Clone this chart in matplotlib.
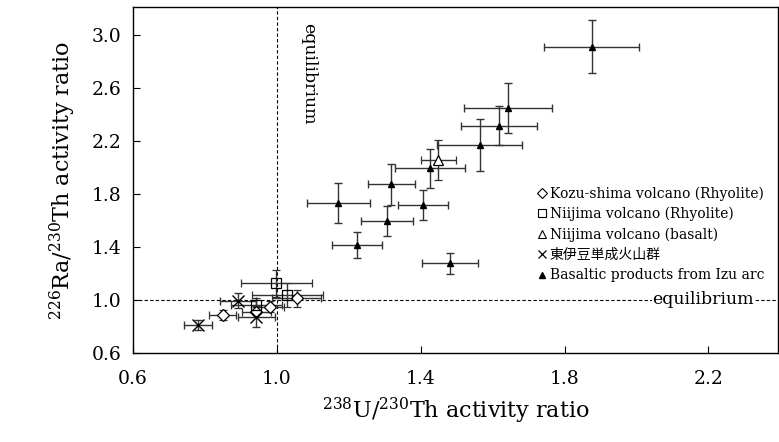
import matplotlib
matplotlib.use("Agg")
import matplotlib.pyplot as plt
from matplotlib.lines import Line2D

plt.rcParams['font.family'] = ['DejaVu Serif', 'Noto Sans CJK JP']
plt.rcParams['mathtext.fontset'] = 'dejavuserif'

# Kozu-shima volcano (Rhyolite)
kozu_x = [0.849, 0.943, 0.981, 1.055]
kozu_y = [0.887, 0.912, 0.949, 1.012]
kozu_xerr = [0.038, 0.04, 0.038, 0.069]
kozu_yerr = [0.04, 0.04, 0.04, 0.063]

# Niijima volcano (Rhyolite)
nrhy_x = [0.999, 1.029, 0.943]
nrhy_y = [1.126, 1.038, 0.962]
nrhy_xerr = [0.10, 0.098, 0.07]
nrhy_yerr = [0.10, 0.09, 0.05]

# Niijima volcano (basalt)
nbas_x = [1.449]
nbas_y = [2.057]
nbas_xerr = [0.049]
nbas_yerr = [0.151]

# East Izu monogenetic volcano group
eizu_x = [0.782, 0.893, 0.943]
eizu_y = [0.811, 0.995, 0.874]
eizu_xerr = [0.039, 0.05, 0.051]
eizu_yerr = [0.04, 0.055, 0.075]

# Basaltic products from Izu arc
izu_x = [1.171, 1.222, 1.306, 1.318, 1.406, 1.425, 1.564, 1.618, 1.643, 1.482, 1.875]
izu_y = [1.732, 1.415, 1.596, 1.873, 1.717, 1.993, 2.170, 2.316, 2.446, 1.276, 2.912]
izu_xerr = [0.087, 0.07, 0.073, 0.065, 0.069, 0.097, 0.119, 0.105, 0.122, 0.078, 0.131]
izu_yerr = [0.15, 0.098, 0.114, 0.153, 0.113, 0.147, 0.197, 0.147, 0.189, 0.082, 0.2]

legend_labels = ['Kozu-shima volcano (Rhyolite)', 'Niijima volcano (Rhyolite)',
                 'Niijima volcano (basalt)', '東伊豆単成火山群',
                 'Basaltic products from Izu arc']

fig = plt.figure(figsize=(7.79, 4.42), dpi=100)
ax = fig.add_axes([0.1707, 0.2014, 0.8283, 0.7826])

eb = dict(ls='none', ecolor='#333333', elinewidth=1.0, capsize=3, capthick=1.0)
ax.errorbar(izu_x, izu_y, xerr=izu_xerr, yerr=izu_yerr, marker='^', ms=5,
            mfc='black', mec='black', **eb)
ax.errorbar(nbas_x, nbas_y, xerr=nbas_xerr, yerr=nbas_yerr, marker='^', ms=7,
            mfc='white', mec='black', mew=0.9, **eb)
ax.errorbar(kozu_x, kozu_y, xerr=kozu_xerr, yerr=kozu_yerr, marker='D', ms=6,
            mfc='white', mec='black', mew=0.9, **eb)
ax.errorbar(nrhy_x, nrhy_y, xerr=nrhy_xerr, yerr=nrhy_yerr, marker='s', ms=7,
            mfc='none', mec='black', mew=0.9, **eb)
ax.errorbar(eizu_x, eizu_y, xerr=eizu_xerr, yerr=eizu_yerr, marker='x', ms=8,
            mfc='none', mec='black', mew=1.0, **eb)

# equilibrium lines
ax.axvline(1.0, color='black', ls=(0, (3, 2)), lw=0.8, zorder=0)
ax.axhline(1.0, color='black', ls=(0, (3, 2)), lw=0.8, zorder=0)
ax.text(1.089, 2.71, 'equilibrium', rotation=-90, ha='center', va='center', fontsize=12.5)
ax.text(2.186, 1.0, 'equilibrium', ha='center', va='center', fontsize=12.5,
        bbox=dict(facecolor='white', edgecolor='none', pad=0.5))

ax.set_xlim(0.6, 2.394)
ax.set_ylim(0.6, 3.21)
ax.set_xticks([0.6, 1.0, 1.4, 1.8, 2.2])
ax.set_yticks([0.6, 1.0, 1.4, 1.8, 2.2, 2.6, 3.0])
ax.tick_params(direction='in', labelsize=13.5, length=5, width=0.8, pad=12)
ax.tick_params(axis='y', pad=8)
for s in ax.spines.values():
    s.set_linewidth(1.0)

ax.set_xlabel(r'$^{238}$U/$^{230}$Th activity ratio', fontsize=16, labelpad=6)
ax.set_ylabel(r'$^{226}$Ra/$^{230}$Th activity ratio', fontsize=16, labelpad=10)

handles = [
    Line2D([], [], ls='none', marker='D', ms=5, mfc='white', mec='black', mew=0.8),
    Line2D([], [], ls='none', marker='s', ms=6, mfc='white', mec='black', mew=0.8),
    Line2D([], [], ls='none', marker='^', ms=6, mfc='white', mec='black', mew=0.8),
    Line2D([], [], ls='none', marker='x', ms=6, mfc='none', mec='black', mew=0.9),
    Line2D([], [], ls='none', marker='^', ms=5, mfc='black', mec='black'),
]
ax.legend(handles, legend_labels, loc='upper left', bbox_to_anchor=(0.616, 0.502),
          frameon=False, fontsize=10, handlelength=0.6, handletextpad=0.3,
          labelspacing=0.45, borderpad=0)

fig.savefig('out.png', dpi=100)
